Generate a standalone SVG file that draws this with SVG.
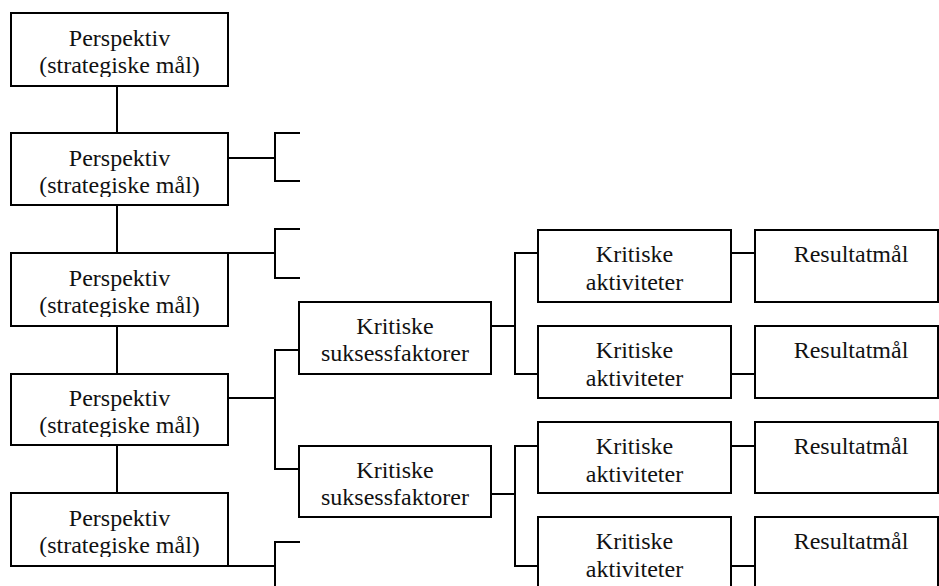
<svg xmlns="http://www.w3.org/2000/svg" width="939" height="586" viewBox="0 0 939 586">
  <style>
    .box { fill: #ffffff; stroke: #000000; stroke-width: 2; }
    .wire { fill: none; stroke: #000000; stroke-width: 2; }
    .label { font-family: "Liberation Serif", "Times New Roman", serif; font-size: 24px; fill: #111111; text-anchor: middle; }
  </style>
  <defs>
    <!-- text areas of the perspective boxes cut off just below the second line -->
    <clipPath id="clipP1" clipPathUnits="userSpaceOnUse"><rect x="11" y="13" width="217" height="64"/></clipPath>
    <clipPath id="clipP2" clipPathUnits="userSpaceOnUse"><rect x="11" y="133" width="217" height="64"/></clipPath>
    <clipPath id="clipP3" clipPathUnits="userSpaceOnUse"><rect x="11" y="253" width="217" height="64"/></clipPath>
    <clipPath id="clipP4" clipPathUnits="userSpaceOnUse"><rect x="11" y="374" width="217" height="63"/></clipPath>
    <clipPath id="clipP5" clipPathUnits="userSpaceOnUse"><rect x="11" y="493" width="217" height="64"/></clipPath>
  </defs>
  <rect width="939" height="586" fill="#ffffff"/>

  <g id="connectors">
    <!-- perspective spine -->
    <path class="wire" d="M117 86 V133 M117 205 V253 M117 326 V374 M117 445 V493"/>
    <!-- perspective 2 bracket -->
    <path class="wire" d="M228 158 H275 M300 133 H275 V181 H300"/>
    <!-- perspective 3 bracket -->
    <path class="wire" d="M228 253 H275 M300 229 H275 V278 H300"/>
    <!-- perspective 4 to success factors -->
    <path class="wire" d="M228 398 H275 M299 350 H275 V469 H299"/>
    <!-- perspective 5 bracket -->
    <path class="wire" d="M228 566 H275 M300 542 H275 V586"/>
    <!-- success factor 1 to activities -->
    <path class="wire" d="M491 326 H515 M538 253 H515 V374 H538"/>
    <!-- success factor 2 to activities -->
    <path class="wire" d="M491 494 H515 M538 446 H515 V566 H538"/>
    <!-- activities to result goals -->
    <path class="wire" d="M731 253 H755 M731 374 H755 M731 446 H755 M731 566 H755"/>
  </g>

  <g id="perspektiv-1">
    <rect class="box" x="11" y="13" width="217" height="73"/>
    <text class="label" clip-path="url(#clipP1)"><tspan x="119.5" y="46">Perspektiv</tspan><tspan x="119.5" y="73">(strategiske mål)</tspan></text>
  </g>
  <g id="perspektiv-2">
    <rect class="box" x="11" y="133" width="217" height="72"/>
    <text class="label" clip-path="url(#clipP2)"><tspan x="119.5" y="166">Perspektiv</tspan><tspan x="119.5" y="193">(strategiske mål)</tspan></text>
  </g>
  <g id="perspektiv-3">
    <rect class="box" x="11" y="253" width="217" height="73"/>
    <text class="label" clip-path="url(#clipP3)"><tspan x="119.5" y="286">Perspektiv</tspan><tspan x="119.5" y="313">(strategiske mål)</tspan></text>
  </g>
  <g id="perspektiv-4">
    <rect class="box" x="11" y="374" width="217" height="71"/>
    <text class="label" clip-path="url(#clipP4)"><tspan x="119.5" y="406">Perspektiv</tspan><tspan x="119.5" y="433">(strategiske mål)</tspan></text>
  </g>
  <g id="perspektiv-5">
    <rect class="box" x="11" y="493" width="217" height="73"/>
    <text class="label" clip-path="url(#clipP5)"><tspan x="119.5" y="526">Perspektiv</tspan><tspan x="119.5" y="553">(strategiske mål)</tspan></text>
  </g>

  <g id="ksf-1">
    <rect class="box" x="299" y="302" width="192" height="72"/>
    <text class="label"><tspan x="395" y="334">Kritiske</tspan><tspan x="395" y="361">suksessfaktorer</tspan></text>
  </g>
  <g id="ksf-2">
    <rect class="box" x="299" y="446" width="192" height="71"/>
    <text class="label"><tspan x="395" y="478">Kritiske</tspan><tspan x="395" y="505">suksessfaktorer</tspan></text>
  </g>

  <g id="aktivitet-1">
    <rect class="box" x="538" y="230" width="193" height="72"/>
    <text class="label"><tspan x="634.5" y="262">Kritiske</tspan><tspan x="634.5" y="290">aktiviteter</tspan></text>
  </g>
  <g id="aktivitet-2">
    <rect class="box" x="538" y="326" width="193" height="72"/>
    <text class="label"><tspan x="634.5" y="358">Kritiske</tspan><tspan x="634.5" y="386">aktiviteter</tspan></text>
  </g>
  <g id="aktivitet-3">
    <rect class="box" x="538" y="422" width="193" height="71"/>
    <text class="label"><tspan x="634.5" y="454">Kritiske</tspan><tspan x="634.5" y="482">aktiviteter</tspan></text>
  </g>
  <g id="aktivitet-4">
    <rect class="box" x="538" y="517" width="193" height="80"/>
    <text class="label"><tspan x="634.5" y="549">Kritiske</tspan><tspan x="634.5" y="577">aktiviteter</tspan></text>
  </g>

  <g id="resultat-1">
    <rect class="box" x="755" y="230" width="183" height="72"/>
    <text class="label" x="851" y="262">Resultatmål</text>
  </g>
  <g id="resultat-2">
    <rect class="box" x="755" y="326" width="183" height="72"/>
    <text class="label" x="851" y="358">Resultatmål</text>
  </g>
  <g id="resultat-3">
    <rect class="box" x="755" y="422" width="183" height="71"/>
    <text class="label" x="851" y="454">Resultatmål</text>
  </g>
  <g id="resultat-4">
    <rect class="box" x="755" y="517" width="183" height="80"/>
    <text class="label" x="851" y="549">Resultatmål</text>
  </g>
</svg>
